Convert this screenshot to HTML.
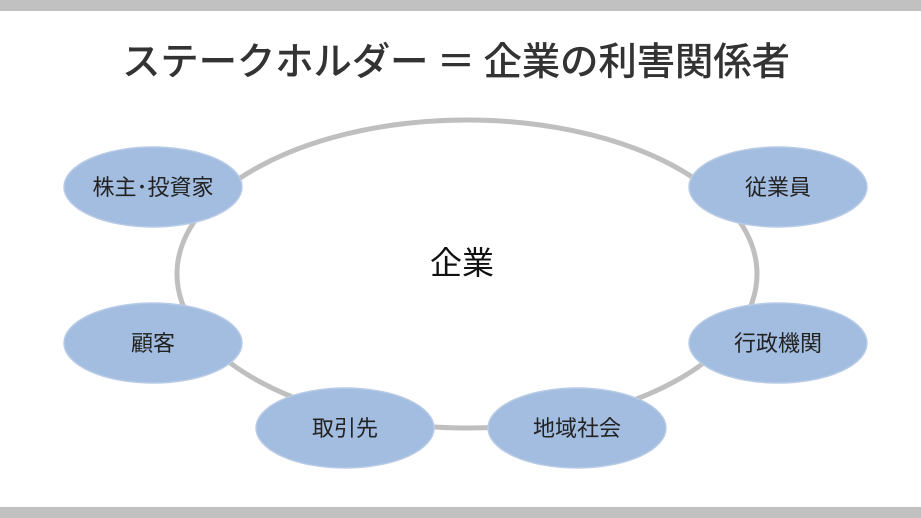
<!DOCTYPE html>
<html><head><meta charset="utf-8"><style>
html,body{margin:0;padding:0;background:#fff;}
body{width:921px;height:518px;overflow:hidden;position:relative;font-family:"Liberation Sans","Noto Sans CJK JP",sans-serif;}
</style></head><body>
<svg width="921" height="518" viewBox="0 0 921 518" xmlns="http://www.w3.org/2000/svg" style="position:absolute;left:0;top:0">
<rect x="0" y="0" width="921" height="11" fill="#c0c1c0"/>
<rect x="0" y="507" width="921" height="11" fill="#c0c1c0"/>
<text x="456" y="75" text-anchor="middle" font-family="Noto Sans CJK JP, sans-serif" font-size="38.5" font-weight="500" fill="#333" textLength="668" lengthAdjust="spacing">ステークホルダー ＝ 企業の利害関係者</text>
<ellipse cx="467" cy="274" rx="290" ry="154" fill="none" stroke="#bfbfbf" stroke-width="5"/>
<text x="462" y="274" text-anchor="middle" font-family="Noto Sans CJK JP, sans-serif" font-size="32" fill="#111">企業</text>
<g fill="#a3bde0" stroke="#b8cbe6" stroke-width="1.5">
<ellipse cx="153" cy="187" rx="89" ry="40"/>
<ellipse cx="778" cy="187" rx="89" ry="40"/>
<ellipse cx="153" cy="343" rx="89" ry="40"/>
<ellipse cx="778" cy="343" rx="89" ry="40"/>
<ellipse cx="345" cy="428" rx="89" ry="40"/>
<ellipse cx="577" cy="428" rx="89" ry="40"/>
</g>
<g font-family="Noto Sans CJK JP, sans-serif" font-size="22" fill="#222" text-anchor="middle">
<text x="153" y="195">株主･投資家</text>
<text x="778" y="195">従業員</text>
<text x="153" y="351">顧客</text>
<text x="778" y="351">行政機関</text>
<text x="345" y="436">取引先</text>
<text x="577" y="436">地域社会</text>
</g>
</svg>
</body></html>
